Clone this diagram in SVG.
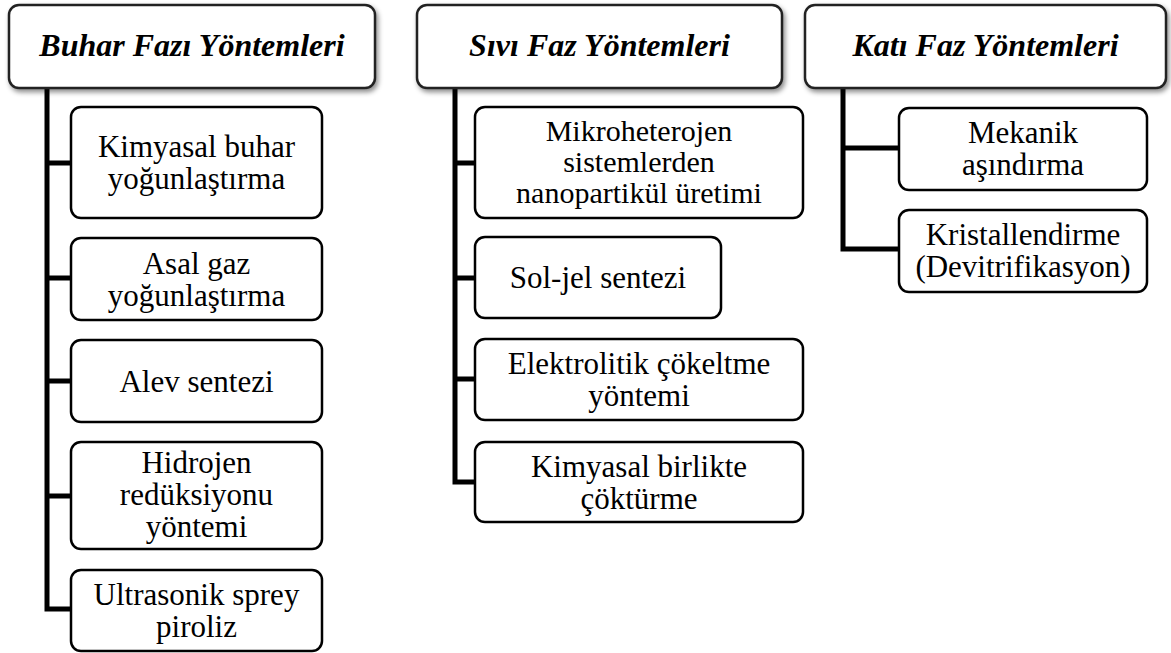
<svg xmlns="http://www.w3.org/2000/svg" width="1171" height="653" viewBox="0 0 1171 653">
<style>
.hdr{fill:#fff;stroke:#222;stroke-width:2.5;filter:url(#sh)}
.box{fill:#fff;stroke:#000;stroke-width:2.5}
.ht{font-family:"Liberation Serif","Times New Roman",serif;font-weight:bold;font-style:italic;font-size:32px;text-anchor:middle;fill:#000}
.bt{font-family:"Liberation Serif","Times New Roman",serif;font-size:31px;text-anchor:middle;fill:#000}
.sm{font-size:30px}
.con{fill:none;stroke:#000;stroke-width:5;stroke-linejoin:miter;stroke-linecap:butt}
</style>
<defs>
<filter id="sh" x="-10%" y="-20%" width="120%" height="150%">
<feDropShadow dx="2" dy="3" stdDeviation="2.5" flood-color="#000" flood-opacity="0.45"/>
</filter>
</defs>
<rect width="1171" height="653" fill="#fff"/>
<g id="connectors">
<path class="con" d="M47 88 V609 H71 M47 163 H71 M47 278 H71 M47 381 H71 M47 496 H71"/>
<path class="con" d="M455 88 V482 H475 M455 163 H475 M455 278 H475 M455 379 H475"/>
<path class="con" d="M843 88 V249 H899 M843 148 H899"/>
</g>
<g id="h1"><rect class="hdr" x="9" y="5" width="366" height="83" rx="10"/><text class="ht" x="192" y="56">Buhar Fazı Yöntemleri</text></g>
<g id="h2"><rect class="hdr" x="417" y="5" width="365" height="83" rx="10"/><text class="ht" x="599.5" y="56">Sıvı Faz Yöntemleri</text></g>
<g id="h3"><rect class="hdr" x="805" y="5" width="361" height="83" rx="10"/><text class="ht" x="985.5" y="56">Katı Faz Yöntemleri</text></g>

<g id="c1a"><rect class="box" x="71" y="107" width="251" height="111" rx="10"/><text class="bt" x="196.5" y="157">Kimyasal buhar</text><text class="bt" x="196.5" y="189">yoğunlaştırma</text></g>
<g id="c1b"><rect class="box" x="71" y="238" width="251" height="82" rx="10"/><text class="bt" x="196.5" y="273.5">Asal gaz</text><text class="bt" x="196.5" y="305.5">yoğunlaştırma</text></g>
<g id="c1c"><rect class="box" x="71" y="340" width="251" height="82" rx="10"/><text class="bt" x="196.5" y="391.5">Alev sentezi</text></g>
<g id="c1d"><rect class="box" x="71" y="442" width="251" height="107" rx="10"/><text class="bt" x="196.5" y="473">Hidrojen</text><text class="bt" x="196.5" y="505">redüksiyonu</text><text class="bt" x="196.5" y="537">yöntemi</text></g>
<g id="c1e"><rect class="box" x="71" y="570" width="251" height="81" rx="10"/><text class="bt" x="196.5" y="605">Ultrasonik sprey</text><text class="bt" x="196.5" y="637">piroliz</text></g>

<g id="c2a"><rect class="box" x="475" y="107" width="328" height="111" rx="10"/><text class="bt sm" x="639" y="141">Mikroheterojen</text><text class="bt sm" x="639" y="172">sistemlerden</text><text class="bt sm" x="639" y="203">nanopartikül üretimi</text></g>
<g id="c2b"><rect class="box" x="475" y="237" width="246" height="81" rx="10"/><text class="bt" x="598" y="288">Sol-jel sentezi</text></g>
<g id="c2c"><rect class="box" x="475" y="339" width="328" height="81" rx="10"/><text class="bt" x="639" y="374">Elektrolitik çökeltme</text><text class="bt" x="639" y="406">yöntemi</text></g>
<g id="c2d"><rect class="box" x="475" y="442" width="328" height="80" rx="10"/><text class="bt" x="639" y="477">Kimyasal birlikte</text><text class="bt" x="639" y="509">çöktürme</text></g>

<g id="c3a"><rect class="box" x="899" y="108" width="248" height="82" rx="10"/><text class="bt" x="1023" y="143">Mekanik</text><text class="bt" x="1023" y="175">aşındırma</text></g>
<g id="c3b"><rect class="box" x="899" y="210" width="248" height="82" rx="10"/><text class="bt" x="1023" y="245">Kristallendirme</text><text class="bt" x="1023" y="277">(Devitrifikasyon)</text></g>
</svg>
